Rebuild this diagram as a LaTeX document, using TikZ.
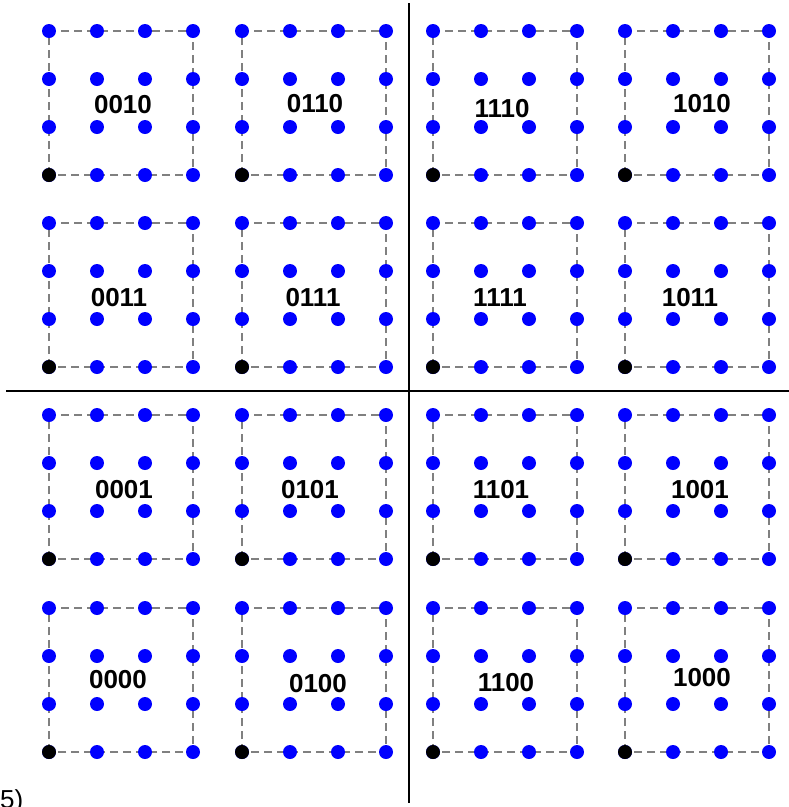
\documentclass[tikz,border=0pt]{standalone}
\usepackage{fontspec}
\setmainfont{Liberation Sans}
\usepackage{tikz}

\tikzset{
  gridline/.style={gray,dash pattern=on 8pt off 5pt,line width=2pt},
  divider/.style={black,line width=1.8pt},
  codelabel/.style={font=\fontsize{26}{30}\selectfont\bfseries,inner sep=0pt},
  partlabel/.style={font=\fontsize{26}{30}\selectfont,inner sep=0pt,anchor=base west}
}

\begin{document}
\begin{tikzpicture}[x=1pt,y=-1pt]
  \useasboundingbox (0,0) rectangle (789,807);
  % quadrant dividers
  \coordinate (vtop) at (409,3);
  \coordinate (vbot) at (409,803);
  \coordinate (hleft) at (6,391);
  \coordinate (hright) at (789,391);
  \draw[divider] (vtop) -- (vbot);
  \draw[divider] (hleft) -- (hright);
  % sixteen squares of 4x4 points, corner point in black
  \foreach \cx in {49,242,433,625}
    \foreach \cy in {175,367,559,752} {
      \draw[gridline] (\cx,\cy) rectangle ++(144,-144);
      \ifnum\cx=49 \ifnum\cy=752
        \draw[gridline,line width=2.8pt] (\cx,\cy) rectangle ++(144,-144);
      \fi\fi
      \foreach \i in {0,...,3}
        \foreach \j in {0,...,3}
          \fill[blue] (\cx+48*\i,\cy-48*\j) circle (7pt);
      \fill[black] (\cx,\cy) circle (7pt);
    }
  % codes
  \foreach \code/\x/\y in {0010/123/105,0110/315/104,1110/502/109,1010/702/104,
      0011/119/298,0111/313/298,1111/500/298,1011/690/298,
      0001/124/490,0101/310/490,1101/501/490,1001/700/490,
      0000/118/680,0100/318/684,1100/506/683,1000/702/678}
    \node[codelabel] (c\code) at (\x,\y) {\code};
  \node[partlabel] (part) at (0,808) {5)};
\end{tikzpicture}
\end{document}
